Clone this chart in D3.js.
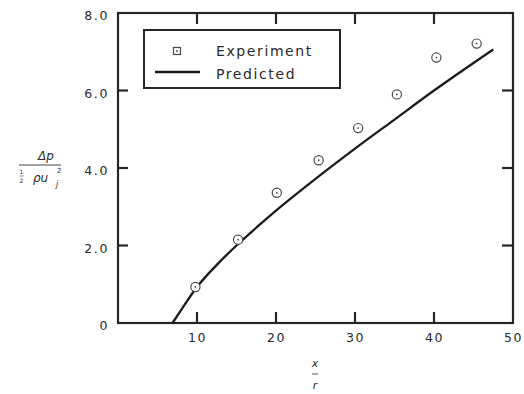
<!DOCTYPE html>
<html>
<head>
<meta charset="utf-8">
<script src="https://cdn.jsdelivr.net/npm/d3@7"></script>
<style>
  html, body { margin: 0; padding: 0; background: #fff; }
  svg { display: block; }
  .tick text { font-family: "DejaVu Sans", sans-serif; font-size: 12.5px; letter-spacing: 1.6px; }
  .lbl { font-family: "DejaVu Sans", sans-serif; fill: #2a2a2a; }
</style>
</head>
<body>
<svg id="chart" width="524" height="394"></svg>
<script>
// Measured pressure rise vs. downstream distance
const expX = [9.8, 15.2, 20.1, 25.4, 30.4, 35.3, 40.3, 45.4];
const expY = [0.93, 2.15, 3.36, 4.2, 5.03, 5.9, 6.85, 7.21];

// Predicted curve
const predX = [6.9, 8, 10, 12.5, 15, 17.5, 20, 25, 30, 35, 40, 47.5];
const predY = [0, 0.34, 0.93, 1.5, 2.0, 2.46, 2.9, 3.72, 4.5, 5.25, 6.0, 7.06];

const xTicks = [10, 20, 30, 40, 50];
const yTicks = [0, 2, 4, 6, 8];
const yTickLabels = ["0", "2.0", "4.0", "6.0", "8.0"];
const legendLabels = ["Experiment", "Predicted"];

const svg = d3.select("#chart");
const ink = "#262626";

const x = d3.scaleLinear().domain([0, 50]).range([118, 513]);
const y = d3.scaleLinear().domain([0, 8]).range([323, 13]);

const frameL = x(0), frameR = x(50), frameT = y(8), frameB = y(0);
const tickLen = 11;

// Tick labels from the standard axes; the tick marks are drawn inward below
svg.append("g").attr("transform", `translate(0,${frameB})`)
  .call(d3.axisBottom(x).tickValues(xTicks).tickSize(0).tickPadding(10))
  .call(g => g.select(".domain").remove());

svg.append("g").attr("transform", `translate(${frameL},0)`)
  .call(d3.axisLeft(y).tickValues(yTicks).tickSize(0).tickPadding(9)
    .tickFormat((d, i) => yTickLabels[i]))
  .call(g => g.select(".domain").remove())
  .call(g => g.selectAll(".tick text").attr("dy", "0.55em"));

svg.selectAll(".tick text").attr("fill", "#2a2a2a");

// Inward tick marks on all four sides
const tk = svg.append("g").attr("stroke", ink).attr("stroke-width", 2.2);
tk.selectAll("line.tb").data(xTicks.slice(0, 4)).join("line").attr("class", "tb")
  .attr("x1", d => x(d)).attr("x2", d => x(d))
  .attr("y1", frameB).attr("y2", frameB - tickLen);
tk.selectAll("line.tt").data(xTicks.slice(0, 4)).join("line").attr("class", "tt")
  .attr("x1", d => x(d)).attr("x2", d => x(d))
  .attr("y1", frameT).attr("y2", frameT + tickLen);
tk.selectAll("line.tl").data(yTicks.slice(1, 4)).join("line").attr("class", "tl")
  .attr("x1", frameL).attr("x2", frameL + tickLen - 1)
  .attr("y1", d => y(d)).attr("y2", d => y(d));
tk.selectAll("line.tr").data(yTicks.slice(1, 4)).join("line").attr("class", "tr")
  .attr("x1", frameR).attr("x2", frameR - tickLen)
  .attr("y1", d => y(d)).attr("y2", d => y(d));

// Plot frame
svg.append("rect")
  .attr("x", frameL).attr("y", frameT)
  .attr("width", frameR - frameL).attr("height", frameB - frameT)
  .attr("fill", "none").attr("stroke", ink).attr("stroke-width", 2.2);

// Predicted line
const pred = predX.map((v, i) => [v, predY[i]]);
svg.append("path")
  .datum(pred)
  .attr("fill", "none")
  .attr("stroke", "#1a1a1a")
  .attr("stroke-width", 2.3)
  .attr("d", d3.line().x(d => x(d[0])).y(d => y(d[1])).curve(d3.curveMonotoneX));

// Experiment markers: small circle with a centre dot
const exp = expX.map((v, i) => [v, expY[i]]);
const mk = svg.append("g").selectAll("g").data(exp).join("g")
  .attr("transform", d => `translate(${x(d[0])},${y(d[1])})`);
mk.append("circle").attr("r", 4.6).attr("fill", "#fff").attr("stroke", "#4a4a4a").attr("stroke-width", 1.2);
mk.append("circle").attr("r", 0.9).attr("fill", "#4a4a4a");

// Legend
const lg = svg.append("g");
lg.append("rect").attr("x", 144).attr("y", 30).attr("width", 196).attr("height", 58)
  .attr("fill", "#fff").attr("stroke", ink).attr("stroke-width", 2);
lg.append("rect").attr("x", 173.5).attr("y", 47.5).attr("width", 7).attr("height", 7)
  .attr("fill", "none").attr("stroke", "#4a4a4a").attr("stroke-width", 1.2);
lg.append("circle").attr("cx", 177).attr("cy", 51).attr("r", 0.9).attr("fill", "#4a4a4a");
lg.append("line").attr("x1", 155).attr("x2", 200).attr("y1", 72).attr("y2", 72)
  .attr("stroke", "#1a1a1a").attr("stroke-width", 2.3);
lg.selectAll("text.leg").data(legendLabels).join("text")
  .attr("class", "lbl leg")
  .attr("x", 216)
  .attr("y", (d, i) => 56 + i * 22.5)
  .attr("font-size", 14)
  .attr("letter-spacing", 1.6)
  .text(d => d);

// Y-axis title: Δp / (½ ρ u_j²)
const yl = svg.append("g").attr("class", "lbl").attr("font-size", 12).attr("font-style", "italic");
yl.append("text").attr("x", 46).attr("y", 160).attr("text-anchor", "middle").text("Δp");
yl.append("line").attr("x1", 19).attr("x2", 61).attr("y1", 165).attr("y2", 165)
  .attr("stroke", "#444").attr("stroke-width", 1);
yl.append("text").attr("x", 21.5).attr("y", 174).attr("text-anchor", "middle").attr("font-size", 6).attr("font-style", "normal").text("1");
yl.append("line").attr("x1", 19.5).attr("x2", 23.5).attr("y1", 176).attr("y2", 176).attr("stroke", "#555").attr("stroke-width", 0.7);
yl.append("text").attr("x", 21.5).attr("y", 183).attr("text-anchor", "middle").attr("font-size", 6).attr("font-style", "normal").text("2");
yl.append("text").attr("x", 33).attr("y", 182).text("ρu");
yl.append("text").attr("x", 57).attr("y", 173).attr("font-size", 7).attr("font-style", "normal").text("2");
yl.append("text").attr("x", 56).attr("y", 187).attr("font-size", 8).text("j");

// X-axis title: x / r
const xl = svg.append("g").attr("class", "lbl").attr("font-style", "italic").attr("text-anchor", "middle");
xl.append("text").attr("x", 315).attr("y", 367).attr("font-size", 11).text("x");
xl.append("line").attr("x1", 312).attr("x2", 318).attr("y1", 374).attr("y2", 374)
  .attr("stroke", "#555").attr("stroke-width", 1);
xl.append("text").attr("x", 315).attr("y", 389).attr("font-size", 11).text("r");
</script>
</body>
</html>
